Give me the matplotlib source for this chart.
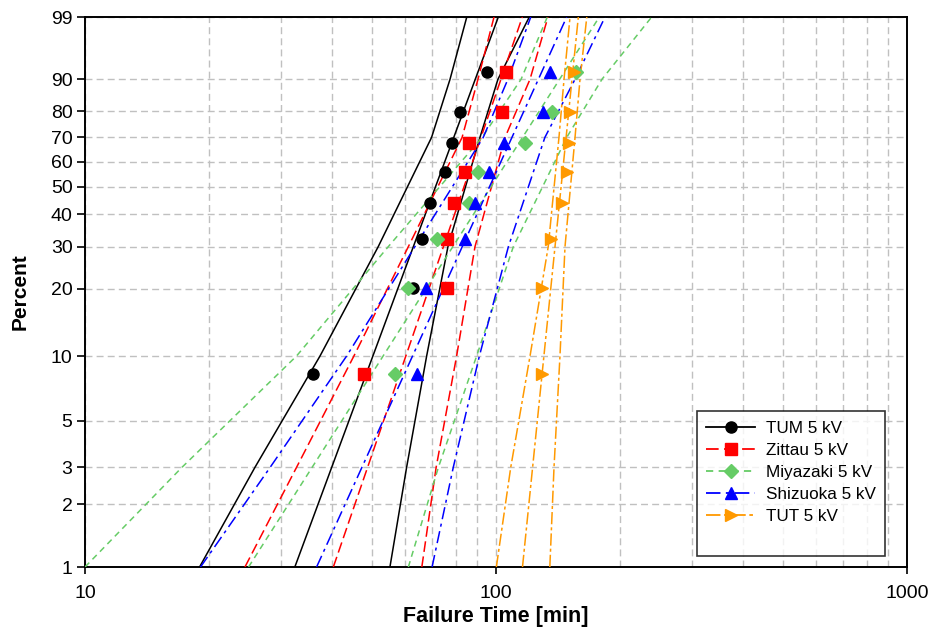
import numpy as np
import matplotlib
matplotlib.use('Agg')
import matplotlib.pyplot as plt
from matplotlib.lines import Line2D

plt.rcParams['font.family'] = ['Liberation Sans', 'DejaVu Sans']

# ---------------- data ----------------
RANKS = [8.3, 20.2, 32.1, 44.0, 56.0, 67.9, 79.8, 91.7]   # median ranks [%]
tum_pts = [35.9, 62.8, 66.0, 69.1, 75.3, 78.2, 81.7, 95.3]
zit_pts = [47.8, 76.0, 76.0, 79.0, 84.2, 86.1, 103.5, 105.7]
miy_pts = [56.7, 61.2, 71.7, 86.2, 90.2, 117.7, 136.7, 156.5]
shi_pts = [64.1, 67.7, 84.2, 89.0, 96.2, 104.6, 130.1, 135.2]
tut_pts = [129.6, 129.3, 136.4, 144.9, 148.6, 150.3, 151.2, 154.5]

FIT_LEVELS = [1, 99]
tum_fit = [32.4, 101.3]
zit_fit = [40.2, 115.9]
miy_fit = [25.0, 178.4]
shi_fit = [36.6, 148.6]
tut_fit = [116.0, 158.6]

BOUND_LEVELS = [1, 3, 10, 30, 70, 90, 99]
tum_lo = [19.0, 25.9, 37.3, 51.7, 69.7, 77.3, 84.9]
tum_hi = [55.2, 60.6, 67.8, 76.4, 91.4, 101.1, 120.5]
zit_lo = [24.5, 32.7, 45.1, 61.2, 82.7, 90.4, 98.9]
zit_hi = [66.0, 71.5, 80.2, 88.9, 105.2, 121.0, 133.8]
miy_lo = [10.0, 17.2, 32.7, 54.7, 92.5, 115.1, 133.3]
miy_hi = [61.2, 72.4, 89.7, 110.2, 148.6, 181.1, 239.2]
shi_lo = [19.1, 28.2, 43.3, 63.5, 93.1, 106.9, 121.5]
shi_hi = [69.9, 78.7, 91.1, 107.2, 131.5, 155.7, 184.2]
tut_lo = [100.2, 108.6, 121.0, 134.0, 142.3, 146.4, 151.4]
tut_hi = [135.2, 138.4, 143.1, 147.2, 155.7, 160.1, 166.3]

LABELS = ['TUM 5 kV', 'Zittau 5 kV', 'Miyazaki 5 kV', 'Shizuoka 5 kV', 'TUT 5 kV']
Y_TICKS = [1, 2, 3, 5, 10, 20, 30, 40, 50, 60, 70, 80, 90, 99]
X_TICKS = [10, 100, 1000]

# ---------------- styles ----------------
series = [
    dict(pts=tum_pts, fit=tum_fit, lo=tum_lo, hi=tum_hi, color='black', marker='o', ms=8,
         ls='-'),
    dict(pts=zit_pts, fit=zit_fit, lo=zit_lo, hi=zit_hi, color='#ff0000', marker='s', ms=8,
         ls=(0, (7, 3))),
    dict(pts=miy_pts, fit=miy_fit, lo=miy_lo, hi=miy_hi, color='#66cc66', marker='D', ms=7.5,
         ls=(0, (4, 3))),
    dict(pts=shi_pts, fit=shi_fit, lo=shi_lo, hi=shi_hi, color='#0000ff', marker='^', ms=9,
         ls=(0, (8, 3, 2, 3))),
    dict(pts=tut_pts, fit=tut_fit, lo=tut_lo, hi=tut_hi, color='#ff9900', marker='>', ms=9,
         ls=(0, (8, 2, 2, 2))),
]


def fwd(p):
    p = np.clip(np.asarray(p, dtype=float), 1e-6, 100 - 1e-6)
    return np.log(-np.log(1 - p / 100.0))


def inv(y):
    y = np.asarray(y, dtype=float)
    return 100.0 * (1 - np.exp(-np.exp(y)))


fig = plt.figure(figsize=(9.32, 6.30), dpi=100)
ax = fig.add_axes([85 / 932, 1 - 567 / 630, 822 / 932, 550 / 630])

ax.set_xscale('log')
ax.set_yscale('function', functions=(fwd, inv))
ax.set_xlim(10, 1000)
ax.set_ylim(1, 99)

handles = []
for s, lab in zip(series, LABELS):
    c = s['color']
    ax.plot(s['fit'], FIT_LEVELS, color=c, ls=s['ls'], lw=1.1, zorder=3)
    ax.plot(s['lo'], BOUND_LEVELS, color=c, ls=s['ls'], lw=1.1, zorder=3)
    ax.plot(s['hi'], BOUND_LEVELS, color=c, ls=s['ls'], lw=1.1, zorder=3)
    ax.plot(s['pts'], RANKS, ls='none', marker=s['marker'], ms=s['ms'], color=c,
            markeredgecolor=c, zorder=5)
    handles.append(Line2D([], [], color=c, ls=s['ls'], lw=1.3, marker=s['marker'],
                          ms=s['ms'], label=lab))
handles.append(Line2D([], [], color='none', ls='none', label=' '))

# grid & ticks
ax.set_yticks(Y_TICKS)
ax.set_yticklabels([str(v) for v in Y_TICKS])
ax.yaxis.set_minor_locator(matplotlib.ticker.NullLocator())
ax.set_xticks(X_TICKS)
ax.set_xticklabels([str(v) for v in X_TICKS])
ax.xaxis.set_minor_locator(matplotlib.ticker.LogLocator(base=10, subs=np.arange(2, 10)))
ax.xaxis.set_minor_formatter(matplotlib.ticker.NullFormatter())
ax.grid(True, which='both', color='#c0c0c0', ls=(0, (5, 3)), lw=1.0, zorder=0)
ax.set_axisbelow(True)
ax.tick_params(axis='y', which='major', direction='out', length=6, width=1.2,
               labelsize=14, colors='black', pad=3)
ax.tick_params(axis='x', which='major', direction='out', length=5, width=1.2,
               labelsize=14, colors='black', pad=8)
ax.tick_params(axis='x', which='minor', length=0)
for sp in ax.spines.values():
    sp.set_linewidth(1.4)
    sp.set_color('black')

ax.set_xlabel('Failure Time [min]', fontsize=15.5, fontweight='bold', labelpad=3)
ax.set_ylabel('Percent', fontsize=15, fontweight='bold', labelpad=15)

leg = ax.legend(handles=handles, loc='lower left', bbox_to_anchor=(0.7445, 0.02),
                fontsize=12.3, frameon=True, fancybox=False, edgecolor='black',
                handlelength=2.85, handletextpad=0.65, labelspacing=0.42,
                borderpad=0.55, borderaxespad=0)
leg.get_frame().set_linewidth(1.2)
leg.set_zorder(10)

fig.savefig('out.png', dpi=100)
